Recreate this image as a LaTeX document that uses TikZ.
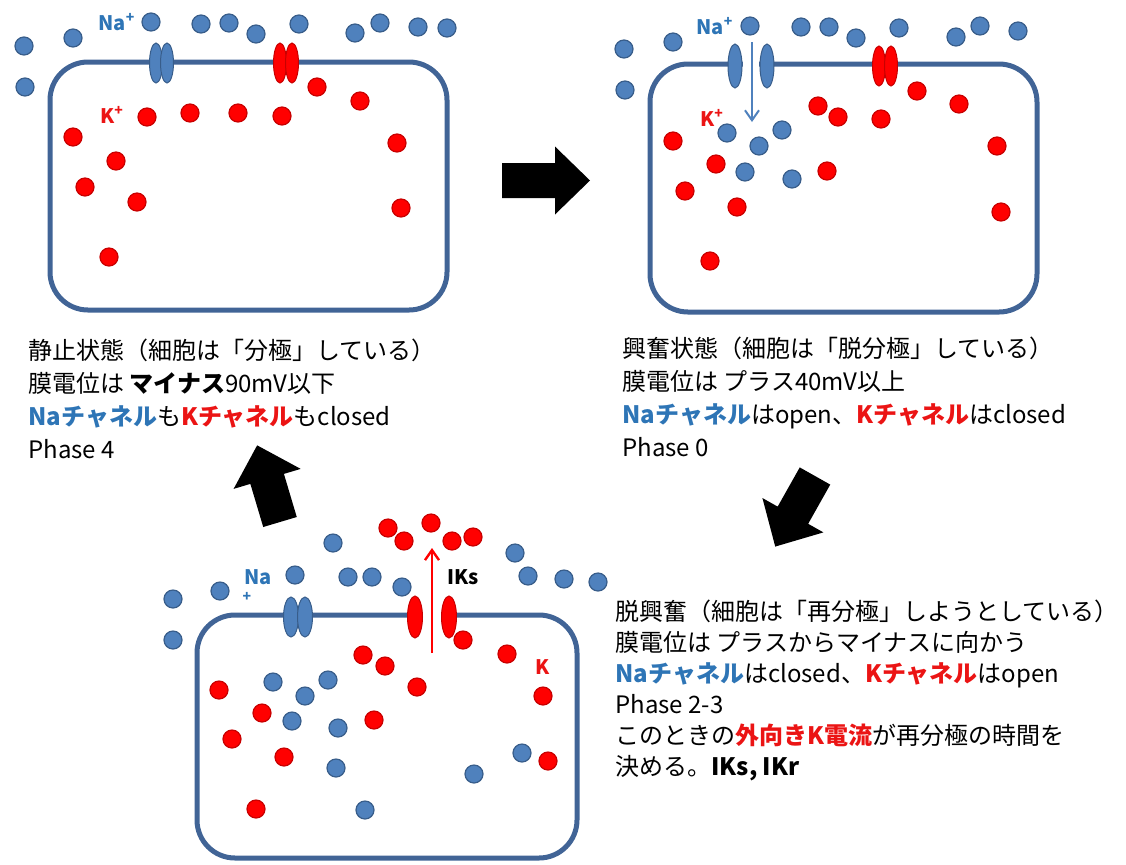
\documentclass[tikz,border=0pt]{standalone}
\usepackage{fontspec}
\setmainfont{Noto Sans CJK JP}
\usetikzlibrary{shapes.geometric,arrows.meta}
\definecolor{nafill}{RGB}{79,129,189}
\definecolor{naline}{RGB}{56,93,138}
\definecolor{kfill}{RGB}{255,0,0}
\definecolor{kline}{RGB}{200,0,0}
\definecolor{membrane}{RGB}{65,100,150}
\definecolor{natext}{RGB}{46,117,182}
\definecolor{ktext}{RGB}{235,20,20}
\newcommand{\natxt}[1]{\textcolor{natext}{\bfseries #1}}
\newcommand{\ktxt}[1]{\textcolor{ktext}{\bfseries #1}}
\begin{document}
\begin{tikzpicture}[x=0.5pt,y=-0.5pt,
na ion/.style={circle,fill=nafill,draw=naline,line width=0.6pt,minimum size=9pt,inner sep=0pt},
k ion/.style={circle,fill=kfill,draw=kline,line width=0.6pt,minimum size=9pt,inner sep=0pt},
cell/.style={draw=membrane,line width=2.5pt,rounded corners=19pt},
na chan/.style={ellipse,fill=nafill,draw=naline,line width=0.5pt,minimum width=6.5pt,minimum height=20pt,inner sep=0pt},
k chan/.style={ellipse,fill=kfill,draw=kline,line width=0.5pt,minimum width=6.5pt,minimum height=20pt,inner sep=0pt},
fat arrow/.style={fill=black},
flow/.style={-{Straight Barb[length=5pt,width=7pt]}},
ion label/.style={font=\fontsize{10}{12}\selectfont\bfseries,inner sep=0pt},
caption/.style={anchor=north west,align=left,inner sep=0pt,font=\fontsize{12}{16.5}\selectfont}]
\useasboundingbox (0,0) rectangle (1126,864);

%% resting cell (top left)
\draw[cell] (50,62) rectangle (447,310);
\node[na chan] (rnaa) at (156,63) {};
\node[na chan] (rnab) at (167,63) {};
\node[k chan] (rka) at (280,63) {};
\node[k chan] (rkb) at (292,63) {};
\node[ion label,text=natext] (rnalab) at (117,22) {Na\textsuperscript{+}};
\node[ion label,text=ktext] (rklab) at (112,115) {K\textsuperscript{+}};
\node[na ion] (rna1) at (24,46) {};%1
\node[na ion] (rna2) at (73,38) {};%2
\node[na ion] (rna3) at (25,87) {};%3
\node[na ion] (rna4) at (151,22) {};%4
\node[na ion] (rna5) at (201,24) {};%5
\node[na ion] (rna6) at (229,23) {};%6
\node[na ion] (rna7) at (256,34) {};%7
\node[na ion] (rna8) at (299,24) {};%8
\node[na ion] (rna9) at (355,33) {};%9
\node[na ion] (rna10) at (380,23) {};%10
\node[na ion] (rna11) at (418,27) {};%11
\node[na ion] (rna12) at (447,28) {};%12
\node[k ion] (rk1) at (317,87) {};%1
\node[k ion] (rk2) at (360,101) {};%2
\node[k ion] (rk3) at (147,117) {};%3
\node[k ion] (rk4) at (190,113) {};%4
\node[k ion] (rk5) at (238,113) {};%5
\node[k ion] (rk6) at (282,116) {};%6
\node[k ion] (rk7) at (73,137) {};%7
\node[k ion] (rk8) at (116,161) {};%8
\node[k ion] (rk9) at (85,187) {};%9
\node[k ion] (rk10) at (137,202) {};%10
\node[k ion] (rk11) at (397,143) {};%11
\node[k ion] (rk12) at (401,208) {};%12
\node[k ion] (rk13) at (109,257) {};%13

%% depolarised cell (top right)
\draw[cell] (650,64) rectangle (1037,312);
\fill[white] (743,57) rectangle (759,72);
\node[na chan,minimum width=7pt,minimum height=22pt] (dnaa) at (735,66) {};
\node[na chan,minimum width=7pt,minimum height=22pt] (dnab) at (767,66) {};
\node[k chan] (dka) at (879,66) {};
\node[k chan] (dkb) at (891,66) {};
\coordinate (dnain) at (752,42);
\coordinate (dnaend) at (752,122);
\draw[flow,nafill,line width=1pt] (dnain) -- (dnaend);
\node[ion label,text=natext] (dnalab) at (715,26) {Na\textsuperscript{+}};
\node[ion label,text=ktext] (dklab) at (712,118) {K\textsuperscript{+}};
\node[na ion] (dna1) at (624,49) {};%1
\node[na ion] (dna2) at (673,42) {};%2
\node[na ion] (dna3) at (625,90) {};%3
\node[na ion] (dna4) at (750,26) {};%4
\node[na ion] (dna5) at (801,27) {};%5
\node[na ion] (dna6) at (829,27) {};%6
\node[na ion] (dna7) at (856,38) {};%7
\node[na ion] (dna8) at (899,28) {};%8
\node[na ion] (dna9) at (956,37) {};%9
\node[na ion] (dna10) at (980,26) {};%10
\node[na ion] (dna11) at (1018,31) {};%11
\node[na ion] (dna12) at (727,133) {};%12
\node[na ion] (dna13) at (759,146) {};%13
\node[na ion] (dna14) at (782,130) {};%14
\node[na ion] (dna15) at (745,172) {};%15
\node[na ion] (dna16) at (792,179) {};%16
\node[k ion] (dk1) at (917,91) {};%1
\node[k ion] (dk2) at (959,104) {};%2
\node[k ion] (dk3) at (818,106) {};%3
\node[k ion] (dk4) at (838,117) {};%4
\node[k ion] (dk5) at (881,119) {};%5
\node[k ion] (dk6) at (673,141) {};%6
\node[k ion] (dk7) at (716,164) {};%7
\node[k ion] (dk8) at (685,191) {};%8
\node[k ion] (dk9) at (827,171) {};%9
\node[k ion] (dk10) at (997,146) {};%10
\node[k ion] (dk11) at (737,207) {};%11
\node[k ion] (dk12) at (1001,212) {};%12
\node[k ion] (dk13) at (710,261) {};%13

%% repolarising cell (bottom)
\draw[cell] (197,615) rectangle (577,858);
\fill[white] (423,608) rectangle (441,623);
\node[na chan,minimum width=7.5pt] (pnaa) at (291,617) {};
\node[na chan,minimum width=7.5pt] (pnab) at (305,617) {};
\node[k chan,minimum width=7.5pt,minimum height=21pt] (pka) at (415,617) {};
\node[k chan,minimum width=7.5pt,minimum height=21pt] (pkb) at (449,617) {};
\coordinate (pkin) at (432,653);
\coordinate (pkend) at (432,548);
\draw[flow,kfill,line width=1.2pt] (pkin) -- (pkend);
\node[ion label,text=natext] (pnalab) at (258,577) {Na};
\node[ion label,text=natext,font=\fontsize{7}{8}\selectfont\bfseries] (pnaplus) at (247,597) {+};
\node[ion label] (pikslab) at (463,577) {IKs};
\node[ion label,text=ktext] (pklab) at (543,667) {K};
\node[k ion] (pk1) at (388,528) {};%1
\node[k ion] (pk2) at (404,541) {};%2
\node[k ion] (pk3) at (431,523) {};%3
\node[k ion] (pk4) at (452,541) {};%4
\node[k ion] (pk5) at (473,537) {};%5
\node[k ion] (pk6) at (463,640) {};%6
\node[k ion] (pk7) at (363,655) {};%7
\node[k ion] (pk8) at (385,666) {};%8
\node[k ion] (pk9) at (507,654) {};%9
\node[k ion] (pk10) at (417,687) {};%10
\node[k ion] (pk11) at (219,690) {};%11
\node[k ion] (pk12) at (262,713) {};%12
\node[k ion] (pk13) at (374,720) {};%13
\node[k ion] (pk14) at (543,696) {};%14
\node[k ion] (pk15) at (232,739) {};%15
\node[k ion] (pk16) at (284,757) {};%16
\node[k ion] (pk17) at (548,761) {};%17
\node[k ion] (pk18) at (256,809) {};%18
\node[na ion] (pna1) at (333,543) {};%1
\node[na ion] (pna2) at (173,599) {};%2
\node[na ion] (pna3) at (220,591) {};%3
\node[na ion] (pna4) at (295,575) {};%4
\node[na ion] (pna5) at (348,577) {};%5
\node[na ion] (pna6) at (372,577) {};%6
\node[na ion] (pna7) at (402,587) {};%7
\node[na ion] (pna8) at (515,553) {};%8
\node[na ion] (pna9) at (528,576) {};%9
\node[na ion] (pna10) at (564,579) {};%10
\node[na ion] (pna11) at (598,582) {};%11
\node[na ion] (pna12) at (173,640) {};%12
\node[na ion] (pna13) at (273,682) {};%13
\node[na ion] (pna14) at (328,680) {};%14
\node[na ion] (pna15) at (305,696) {};%15
\node[na ion] (pna16) at (292,721) {};%16
\node[na ion] (pna17) at (338,728) {};%17
\node[na ion] (pna18) at (336,768) {};%18
\node[na ion] (pna19) at (522,753) {};%19
\node[na ion] (pna20) at (474,774) {};%20
\node[na ion] (pna21) at (365,810) {};%21

%% cycle arrows
\fill[fat arrow,shift={(502,180.5)}] (0,-17.5) -- (53,-17.5) -- (53,-34) -- (88,0) -- (53,34) -- (53,17.5) -- (0,17.5) -- cycle;
\fill[fat arrow,shift={(815,476)},rotate=-119.4] (0,-17.5) -- (45,-17.5) -- (45,-35) -- (81,0) -- (45,35) -- (45,17.5) -- (0,17.5) -- cycle;
\fill[fat arrow,shift={(280,522)},rotate=106.6] (0,-17.5) -- (45,-17.5) -- (45,-35) -- (80,0) -- (45,35) -- (45,17.5) -- (0,17.5) -- cycle;

%% captions
\node[caption] (restcap) at (28,339) {静止状態（細胞は「分極」している）\\
膜電位は \textbf{マイナス}90mV以下\\
\natxt{Naチャネル}も\ktxt{Kチャネル}もclosed\\
Phase 4};
\node[caption] (depolcap) at (622,337) {興奮状態（細胞は「脱分極」している）\\
膜電位は プラス40mV以上\\
\natxt{Naチャネル}はopen、\ktxt{Kチャネル}はclosed\\
Phase 0};
\node[caption,font=\fontsize{12}{15.5}\selectfont] (repolcap) at (615,600) {脱興奮（細胞は「再分極」しようとしている）\\
膜電位は プラスからマイナスに向かう\\
\natxt{Naチャネル}はclosed、\ktxt{Kチャネル}はopen\\
Phase 2-3\\
このときの\ktxt{外向きK電流}が再分極の時間を\\
決める。\textbf{IKs, IKr}};
\end{tikzpicture}
\end{document}
